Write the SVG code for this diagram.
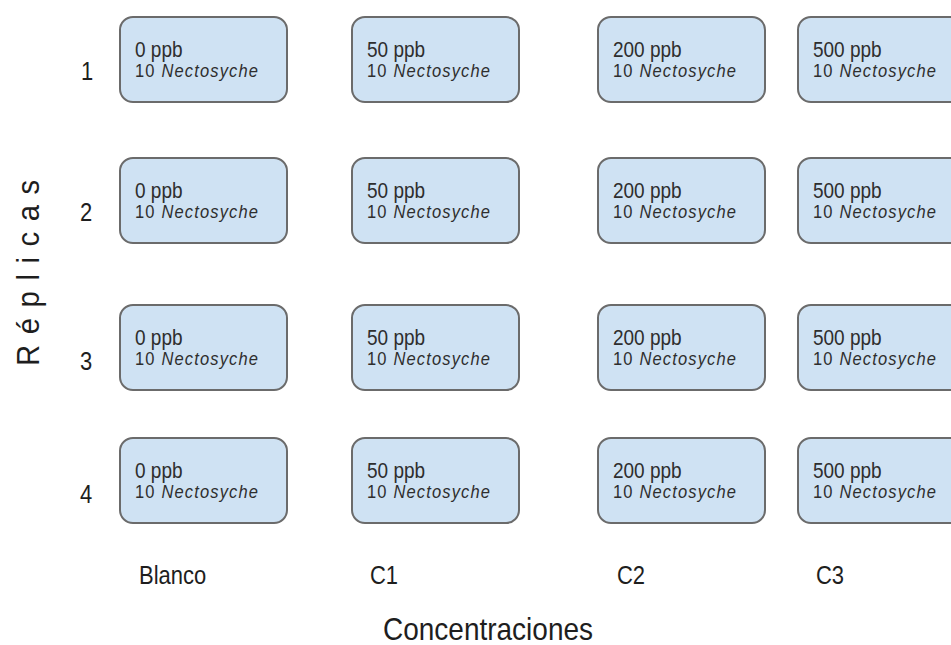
<svg xmlns="http://www.w3.org/2000/svg" width="951" height="645" viewBox="0 0 951 645">
<style>
.box{fill:#cfe2f3;stroke:#6b6b6b;stroke-width:2}
.t1{font-family:"Liberation Sans",Arial,sans-serif;font-size:19px;fill:#2e2e2e}
.t2{font-family:"Liberation Sans",Arial,sans-serif;font-size:16.5px;fill:#2e2e2e}
.it{font-style:italic}
.lab{font-family:"Liberation Sans",Arial,sans-serif;font-size:22px;fill:#1e1e1e}
.axis{font-family:"Liberation Sans",Arial,sans-serif;font-size:28px;fill:#1e1e1e}
</style>
<rect width="951" height="645" fill="#ffffff"/>
<g id="labels">
<text class="lab" x="81" transform="matrix(1 0 0 1.15 0 80)">1</text>
<text class="lab" x="80" transform="matrix(1 0 0 1.15 0 221)">2</text>
<text class="lab" x="80" transform="matrix(1 0 0 1.15 0 370)">3</text>
<text class="lab" x="80" transform="matrix(1 0 0 1.15 0 503)">4</text>
<text class="lab" x="139" transform="matrix(1 0 0 1.15 0 584)">Blanco</text>
<text class="lab" x="370" transform="matrix(1 0 0 1.15 0 584)">C1</text>
<text class="lab" x="617" transform="matrix(1 0 0 1.15 0 584)">C2</text>
<text class="lab" x="816" transform="matrix(1 0 0 1.15 0 584)">C3</text>
<text class="axis" x="383" transform="matrix(1 0 0 1.15 0 640)">Concentraciones</text>
<text class="axis" transform="translate(39,366) rotate(-90) scale(1.05,1.12)" style="font-size:28px" letter-spacing="10">Réplicas</text>
</g>
<g id="r1c1"><rect class="box" x="120" y="17" width="167" height="85" rx="13"/><text class="t1" x="135" transform="matrix(1 0 0 1.15 0 57)">0 ppb</text><text class="t2" x="135" transform="matrix(1 0 0 1.15 0 77)" textLength="123">10 <tspan class="it">Nectosyche</tspan></text></g>
<g id="r1c2"><rect class="box" x="352" y="17" width="167" height="85" rx="13"/><text class="t1" x="367" transform="matrix(1 0 0 1.15 0 57)">50 ppb</text><text class="t2" x="367" transform="matrix(1 0 0 1.15 0 77)" textLength="123">10 <tspan class="it">Nectosyche</tspan></text></g>
<g id="r1c3"><rect class="box" x="598" y="17" width="167" height="85" rx="13"/><text class="t1" x="613" transform="matrix(1 0 0 1.15 0 57)">200 ppb</text><text class="t2" x="613" transform="matrix(1 0 0 1.15 0 77)" textLength="123">10 <tspan class="it">Nectosyche</tspan></text></g>
<g id="r1c4"><rect class="box" x="798" y="17" width="167" height="85" rx="13"/><text class="t1" x="813" transform="matrix(1 0 0 1.15 0 57)">500 ppb</text><text class="t2" x="813" transform="matrix(1 0 0 1.15 0 77)" textLength="123">10 <tspan class="it">Nectosyche</tspan></text></g>

<g id="r2c1"><rect class="box" x="120" y="158" width="167" height="85" rx="13"/><text class="t1" x="135" transform="matrix(1 0 0 1.15 0 198)">0 ppb</text><text class="t2" x="135" transform="matrix(1 0 0 1.15 0 218)" textLength="123">10 <tspan class="it">Nectosyche</tspan></text></g>
<g id="r2c2"><rect class="box" x="352" y="158" width="167" height="85" rx="13"/><text class="t1" x="367" transform="matrix(1 0 0 1.15 0 198)">50 ppb</text><text class="t2" x="367" transform="matrix(1 0 0 1.15 0 218)" textLength="123">10 <tspan class="it">Nectosyche</tspan></text></g>
<g id="r2c3"><rect class="box" x="598" y="158" width="167" height="85" rx="13"/><text class="t1" x="613" transform="matrix(1 0 0 1.15 0 198)">200 ppb</text><text class="t2" x="613" transform="matrix(1 0 0 1.15 0 218)" textLength="123">10 <tspan class="it">Nectosyche</tspan></text></g>
<g id="r2c4"><rect class="box" x="798" y="158" width="167" height="85" rx="13"/><text class="t1" x="813" transform="matrix(1 0 0 1.15 0 198)">500 ppb</text><text class="t2" x="813" transform="matrix(1 0 0 1.15 0 218)" textLength="123">10 <tspan class="it">Nectosyche</tspan></text></g>

<g id="r3c1"><rect class="box" x="120" y="305" width="167" height="85" rx="13"/><text class="t1" x="135" transform="matrix(1 0 0 1.15 0 345)">0 ppb</text><text class="t2" x="135" transform="matrix(1 0 0 1.15 0 365)" textLength="123">10 <tspan class="it">Nectosyche</tspan></text></g>
<g id="r3c2"><rect class="box" x="352" y="305" width="167" height="85" rx="13"/><text class="t1" x="367" transform="matrix(1 0 0 1.15 0 345)">50 ppb</text><text class="t2" x="367" transform="matrix(1 0 0 1.15 0 365)" textLength="123">10 <tspan class="it">Nectosyche</tspan></text></g>
<g id="r3c3"><rect class="box" x="598" y="305" width="167" height="85" rx="13"/><text class="t1" x="613" transform="matrix(1 0 0 1.15 0 345)">200 ppb</text><text class="t2" x="613" transform="matrix(1 0 0 1.15 0 365)" textLength="123">10 <tspan class="it">Nectosyche</tspan></text></g>
<g id="r3c4"><rect class="box" x="798" y="305" width="167" height="85" rx="13"/><text class="t1" x="813" transform="matrix(1 0 0 1.15 0 345)">500 ppb</text><text class="t2" x="813" transform="matrix(1 0 0 1.15 0 365)" textLength="123">10 <tspan class="it">Nectosyche</tspan></text></g>

<g id="r4c1"><rect class="box" x="120" y="438" width="167" height="85" rx="13"/><text class="t1" x="135" transform="matrix(1 0 0 1.15 0 478)">0 ppb</text><text class="t2" x="135" transform="matrix(1 0 0 1.15 0 498)" textLength="123">10 <tspan class="it">Nectosyche</tspan></text></g>
<g id="r4c2"><rect class="box" x="352" y="438" width="167" height="85" rx="13"/><text class="t1" x="367" transform="matrix(1 0 0 1.15 0 478)">50 ppb</text><text class="t2" x="367" transform="matrix(1 0 0 1.15 0 498)" textLength="123">10 <tspan class="it">Nectosyche</tspan></text></g>
<g id="r4c3"><rect class="box" x="598" y="438" width="167" height="85" rx="13"/><text class="t1" x="613" transform="matrix(1 0 0 1.15 0 478)">200 ppb</text><text class="t2" x="613" transform="matrix(1 0 0 1.15 0 498)" textLength="123">10 <tspan class="it">Nectosyche</tspan></text></g>
<g id="r4c4"><rect class="box" x="798" y="438" width="167" height="85" rx="13"/><text class="t1" x="813" transform="matrix(1 0 0 1.15 0 478)">500 ppb</text><text class="t2" x="813" transform="matrix(1 0 0 1.15 0 498)" textLength="123">10 <tspan class="it">Nectosyche</tspan></text></g>
<g id="connectors"/>
</svg>
